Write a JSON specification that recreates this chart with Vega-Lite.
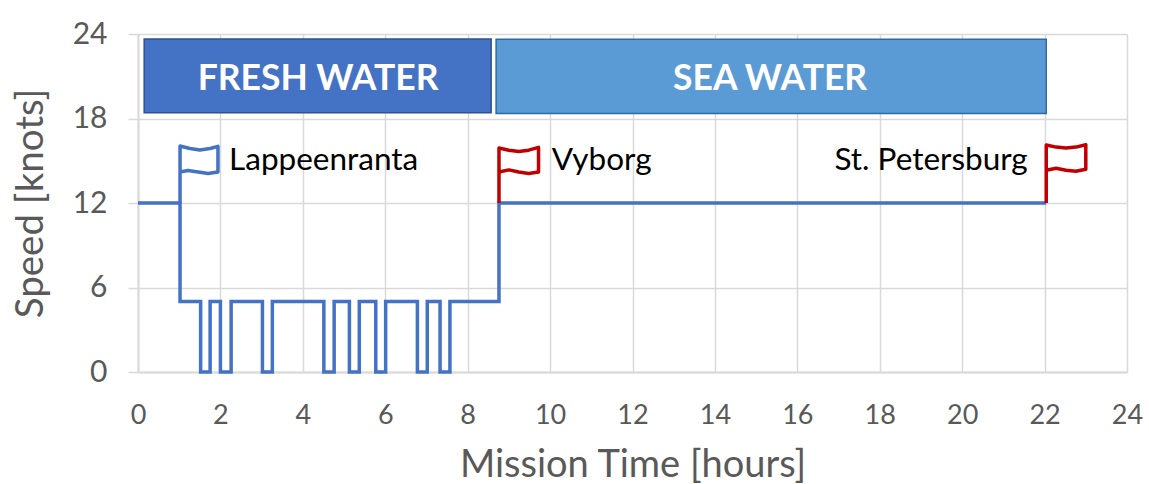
{
"$schema":"https://vega.github.io/schema/vega-lite/v6.json",
"width":989,"height":338,
"autosize":{"type":"none"},
"padding":{"left":138,"top":34,"right":22,"bottom":112},
"background":"white",
"config":{"view":{"stroke":null},"font":"Lato"},
"datasets":{
"zones":[
{"zone":"FRESH WATER","x0":0.15,"x1":8.57,"y0":18.4,"y1":23.65,"xc":4.37,"yc":20.8},
{"zone":"SEA WATER","x0":8.69,"x1":22.04,"y0":18.35,"y1":23.62,"xc":15.34,"yc":20.8}
],
"speed":[
{"i":0,"t":0,"v":12},{"i":1,"t":1.02,"v":12},{"i":2,"t":1.02,"v":5},{"i":3,"t":1.52,"v":5},{"i":4,"t":1.52,"v":0},{"i":5,"t":1.75,"v":0},{"i":6,"t":1.75,"v":5},{"i":7,"t":2.0,"v":5},{"i":8,"t":2.0,"v":0},{"i":9,"t":2.26,"v":0},{"i":10,"t":2.26,"v":5},{"i":11,"t":3.02,"v":5},{"i":12,"t":3.02,"v":0},{"i":13,"t":3.26,"v":0},{"i":14,"t":3.26,"v":5},{"i":15,"t":4.51,"v":5},{"i":16,"t":4.51,"v":0},{"i":17,"t":4.76,"v":0},{"i":18,"t":4.76,"v":5},{"i":19,"t":5.13,"v":5},{"i":20,"t":5.13,"v":0},{"i":21,"t":5.37,"v":0},{"i":22,"t":5.37,"v":5},{"i":23,"t":5.77,"v":5},{"i":24,"t":5.77,"v":0},{"i":25,"t":6.01,"v":0},{"i":26,"t":6.01,"v":5},{"i":27,"t":6.78,"v":5},{"i":28,"t":6.78,"v":0},{"i":29,"t":7.02,"v":0},{"i":30,"t":7.02,"v":5},{"i":31,"t":7.33,"v":5},{"i":32,"t":7.33,"v":0},{"i":33,"t":7.57,"v":0},{"i":34,"t":7.57,"v":5},{"i":35,"t":8.76,"v":5},{"i":36,"t":8.76,"v":12},{"i":37,"t":22.04,"v":12}
],
"flags":[
{"f":"Lappeenranta","c":"start","i":0,"t":1.02,"v":12},{"f":"Lappeenranta","c":"start","i":1,"t":1.02,"v":16.05},{"f":"Lappeenranta","c":"start","i":2,"t":1.26,"v":15.87},{"f":"Lappeenranta","c":"start","i":3,"t":1.5,"v":15.77},{"f":"Lappeenranta","c":"start","i":4,"t":1.75,"v":15.87},{"f":"Lappeenranta","c":"start","i":5,"t":1.94,"v":16.02},{"f":"Lappeenranta","c":"start","i":6,"t":1.94,"v":14.2},{"f":"Lappeenranta","c":"start","i":7,"t":1.7,"v":14.1},{"f":"Lappeenranta","c":"start","i":8,"t":1.46,"v":14.2},{"f":"Lappeenranta","c":"start","i":9,"t":1.21,"v":14.31},{"f":"Lappeenranta","c":"start","i":10,"t":1.02,"v":14.2},
{"f":"Vyborg","c":"stop","i":0,"t":8.76,"v":12},{"f":"Vyborg","c":"stop","i":1,"t":8.76,"v":15.91},{"f":"Vyborg","c":"stop","i":2,"t":9.0,"v":15.75},{"f":"Vyborg","c":"stop","i":3,"t":9.24,"v":15.66},{"f":"Vyborg","c":"stop","i":4,"t":9.48,"v":15.75},{"f":"Vyborg","c":"stop","i":5,"t":9.72,"v":15.95},{"f":"Vyborg","c":"stop","i":6,"t":9.72,"v":14.2},{"f":"Vyborg","c":"stop","i":7,"t":9.48,"v":14.1},{"f":"Vyborg","c":"stop","i":8,"t":9.24,"v":14.2},{"f":"Vyborg","c":"stop","i":9,"t":9.0,"v":14.35},{"f":"Vyborg","c":"stop","i":10,"t":8.76,"v":14.2},
{"f":"St. Petersburg","c":"stop","i":0,"t":22.04,"v":12},{"f":"St. Petersburg","c":"stop","i":1,"t":22.04,"v":16.12},{"f":"St. Petersburg","c":"stop","i":2,"t":22.28,"v":15.97},{"f":"St. Petersburg","c":"stop","i":3,"t":22.52,"v":15.9},{"f":"St. Petersburg","c":"stop","i":4,"t":22.76,"v":15.97},{"f":"St. Petersburg","c":"stop","i":5,"t":23.0,"v":16.14},{"f":"St. Petersburg","c":"stop","i":6,"t":23.0,"v":14.4},{"f":"St. Petersburg","c":"stop","i":7,"t":22.76,"v":14.26},{"f":"St. Petersburg","c":"stop","i":8,"t":22.52,"v":14.33},{"f":"St. Petersburg","c":"stop","i":9,"t":22.28,"v":14.47},{"f":"St. Petersburg","c":"stop","i":10,"t":22.04,"v":14.33}
],
"places":[
{"name":"Lappeenranta","t":2.21,"v":15.0},
{"name":"Vyborg","t":10.04,"v":15.0},
{"name":"St. Petersburg","t":16.9,"v":15.0}
]
},
"layer":[
{
"data":{"name":"zones"},
"mark":{"type":"rect","strokeWidth":1.5},
"encoding":{
"x":{"field":"x0","type":"quantitative","scale":{"domain":[0,24],"nice":false},
"axis":{"values":[0,2,4,6,8,10,12,14,16,18,20,22,24],"title":"Mission Time [hours]","titleFontSize":38,"titleFontWeight":"normal","titleColor":"#595959","titlePadding":18,"labelFontSize":27,"labelColor":"#595959","labelPadding":30,"labelFlush":false,"labelOverlap":false,"ticks":false,"domainColor":"#d9d9d9","domainWidth":2,"grid":true,"gridColor":"#d9d9d9","gridWidth":1.5}},
"x2":{"field":"x1"},
"y":{"field":"y0","type":"quantitative","scale":{"domain":[0,24],"nice":false},
"axis":{"values":[0,6,12,18,24],"title":"Speed [knots]","titleFontSize":38.5,"titleFontWeight":"normal","titleColor":"#595959","titlePadding":22,"labelFontSize":30,"labelColor":"#595959","labelPadding":21,"labelFlush":false,"ticks":true,"tickSize":10,"tickColor":"#d9d9d9","tickWidth":1.5,"domainColor":"#d9d9d9","domainWidth":2,"grid":true,"gridColor":"#d9d9d9","gridWidth":1.5}},
"y2":{"field":"y1"},
"fill":{"field":"zone","type":"nominal","legend":null,"scale":{"domain":["FRESH WATER","SEA WATER"],"range":["#4472c4","#5b9bd5"]}},
"stroke":{"field":"zone","type":"nominal","legend":null,"scale":{"domain":["FRESH WATER","SEA WATER"],"range":["#2f528f","#2e6c9e"]}}
}
},
{
"data":{"name":"zones"},
"mark":{"type":"text","font":"Lato","fontSize":35.5,"fontWeight":"bold","color":"white","align":"center","baseline":"middle"},
"encoding":{
"x":{"field":"xc","type":"quantitative"},
"y":{"field":"yc","type":"quantitative"},
"text":{"field":"zone"}
}
},
{
"data":{"name":"speed"},
"mark":{"type":"line","color":"#4472c4","strokeWidth":3.5,"strokeJoin":"miter"},
"encoding":{
"x":{"field":"t","type":"quantitative"},
"y":{"field":"v","type":"quantitative"},
"order":{"field":"i","type":"quantitative"}
}
},
{
"data":{"name":"flags"},
"mark":{"type":"line","strokeWidth":3.5,"strokeJoin":"round"},
"encoding":{
"x":{"field":"t","type":"quantitative"},
"y":{"field":"v","type":"quantitative"},
"order":{"field":"i","type":"quantitative"},
"detail":{"field":"f"},
"color":{"field":"c","type":"nominal","legend":null,"scale":{"domain":["start","stop"],"range":["#4472c4","#c00000"]}}
}
},
{
"data":{"name":"places"},
"mark":{"type":"text","font":"Lato","fontSize":31.5,"color":"black","align":"left","baseline":"middle"},
"encoding":{
"x":{"field":"t","type":"quantitative"},
"y":{"field":"v","type":"quantitative"},
"text":{"field":"name"}
}
}
]
}
